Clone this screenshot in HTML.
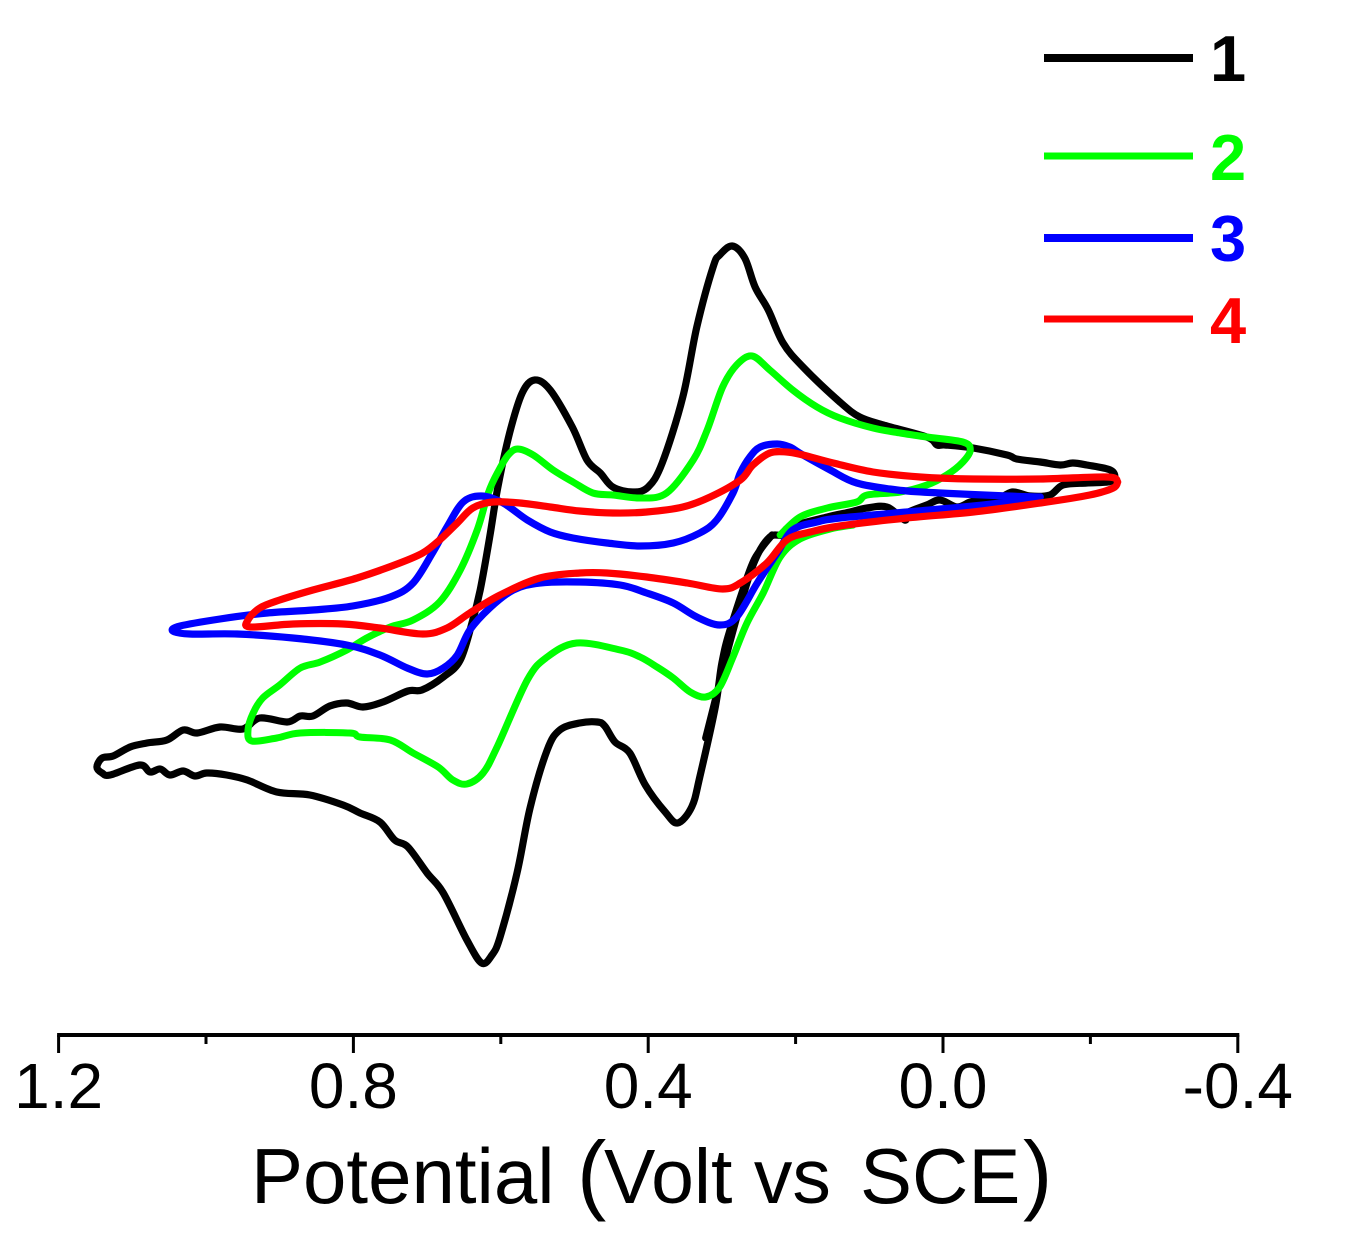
<!DOCTYPE html>
<html lang="en">
<head>
<meta charset="utf-8">
<title>Cyclic voltammograms</title>
<style>
html,body{margin:0;padding:0;background:#fff;width:1349px;height:1248px;overflow:hidden}
svg{display:block;font-family:"Liberation Sans",Arial,sans-serif}
</style>
</head>
<body>
<svg id="chart" width="1349" height="1248" viewBox="0 0 1349 1248" xmlns="http://www.w3.org/2000/svg">
  <rect width="1349" height="1248" fill="#fff"/>
  <g id="series"></g>
  <g id="axis"></g>
  <text y="1203" font-size="78" fill="#000"><tspan x="251">Potential </tspan><tspan x="577" font-size="88">(</tspan><tspan x="604" font-size="77">Volt vs </tspan><tspan x="860">SCE</tspan><tspan x="1023" font-size="88">)</tspan></text>
  <g>
    <line x1="1044" x2="1193" y1="58" y2="58" stroke="#000" stroke-width="8"/>
    <text x="1210" y="81" font-size="65" font-weight="bold" fill="#000">1</text>
    <line x1="1044" x2="1193" y1="156" y2="156" stroke="#00ff00" stroke-width="7"/>
    <text x="1210" y="180" font-size="65" font-weight="bold" fill="#00ff00">2</text>
    <line x1="1044" x2="1193" y1="238" y2="238" stroke="#0000ff" stroke-width="8"/>
    <text x="1210" y="261" font-size="65" font-weight="bold" fill="#0000ff">3</text>
    <line x1="1044" x2="1193" y1="319" y2="319" stroke="#ff0000" stroke-width="7"/>
    <text x="1210" y="343" font-size="65" font-weight="bold" fill="#ff0000">4</text>
  </g>
</svg>
<script>
const majorTicks = [1.2, 0.8, 0.4, 0.0, -0.4];
const majorTickLabels = ["1.2", "0.8", "0.4", "0.0", "-0.4"];
const minorTicks = [1.0, 0.6, 0.2, -0.2];

const potential1 = [0.322,0.309,0.292,0.273,0.255,0.235,0.217,0.208,0.157,0.126,0.103,0.076,0.052,0.049,0.022,0.004,-0.019,-0.037,-0.054,-0.073,-0.094,-0.118,-0.145,-0.163,-0.195,-0.224,-0.233,-0.227,-0.195,-0.176,-0.159,-0.132,-0.100,-0.087,-0.041,-0.003,0.008,0.022,0.081,0.113,0.140,0.190,0.217,0.237,0.255,0.269,0.286,0.303,0.312,0.334,0.353,0.381,0.400,0.421,0.448,0.465,0.483,0.503,0.533,0.554,0.571,0.588,0.604,0.615,0.628,0.638,0.655,0.678,0.707,0.726,0.760,0.787,0.809,0.832,0.855,0.872,0.890,0.927,0.950,0.981,1.012,1.031,1.053,1.080,1.103,1.126,1.141,1.148,1.141,1.130,1.090,1.076,1.062,1.049,1.031,1.015,0.999,0.972,0.944,0.904,0.859,0.814,0.791,0.764,0.744,0.726,0.700,0.678,0.646,0.626,0.612,0.601,0.578,0.560,0.537,0.520,0.493,0.469,0.459,0.445,0.425,0.404,0.377,0.360,0.341,0.330,0.309,0.300,0.289,0.262,0.248,0.232];
const current1 = [-23.8,-20.0,-15.0,-10.0,-6.0,-3.7,-3.5,-2.7,-1.7,-1.2,-0.8,-0.7,-2.0,-1.3,-0.5,0,-0.7,-0.2,0,0,0.8,0.4,0.5,1.5,1.7,1.8,2.2,3.0,3.5,3.7,3.5,3.8,4.1,4.5,5.2,5.5,5.5,6.3,7.5,8.3,9.8,13.3,15.7,19.0,21.3,24.2,25.4,24.5,23.3,17.3,10.3,3.7,1.3,0.8,1.3,2.7,4.0,7.3,11.0,12.0,10.7,6.7,1.3,-3.7,-9.0,-12.0,-16.0,-17.7,-19.0,-19.1,-20.2,-20.7,-20.3,-20.6,-21.6,-21.6,-22.2,-21.8,-22.9,-22.7,-23.3,-23.0,-24.0,-24.3,-24.7,-25.6,-25.8,-26.7,-27.3,-27.5,-26.5,-27.2,-26.9,-27.5,-27.1,-27.6,-27.3,-27.5,-28.0,-29.2,-29.5,-30.5,-31.3,-32.2,-34.0,-34.7,-37.3,-39.3,-44.0,-46.3,-45.5,-43.7,-37.3,-30.7,-25.0,-23.0,-22.3,-22.2,-22.6,-24.2,-25.3,-28.5,-31.2,-32.3,-30.7,-27.7,-20.7,-16.3,-13.0,-7.0,-5.0,-3.5];

const potential2 = [0.221,0.194,0.157,0.117,0.103,0.058,0.022,-0.005,-0.027,-0.037,-0.027,0.022,0.058,0.095,0.140,0.171,0.204,0.235,0.259,0.280,0.299,0.320,0.339,0.375,0.411,0.448,0.475,0.502,0.529,0.556,0.577,0.590,0.604,0.617,0.632,0.655,0.683,0.719,0.750,0.782,0.809,0.845,0.872,0.900,0.923,0.936,0.943,0.938,0.904,0.872,0.805,0.791,0.750,0.719,0.685,0.665,0.646,0.624,0.605,0.564,0.537,0.497,0.438,0.411,0.388,0.366,0.343,0.322,0.303,0.285,0.266,0.244,0.221,0.194,0.153,0.122];
const current2 = [-3.5,-1.7,-0.8,-0.2,0.5,0.8,1.5,2.5,3.8,5.0,5.8,6.3,6.7,7.2,8.2,9.3,11.0,13.0,14.4,13.5,11.3,7.0,4.0,0.7,0.2,0.5,0.7,1.8,3.0,4.5,5.1,4.5,2.8,0.7,-3.0,-7.0,-10.2,-12.0,-12.7,-13.8,-15.0,-16.2,-16.8,-18.5,-19.8,-21.3,-23.0,-24.1,-23.8,-23.3,-23.3,-23.7,-24.0,-25.3,-26.7,-28.0,-28.4,-27.3,-24.7,-18.0,-15.7,-14.3,-15.0,-15.7,-16.7,-17.8,-19.2,-19.7,-18.7,-15.7,-12.3,-9.3,-5.7,-3.9,-2.9,-2.5];

const potential3 = [-0.132,-0.087,0.004,0.062,0.117,0.153,0.190,0.208,0.225,0.248,0.262,0.275,0.285,0.307,0.330,0.366,0.411,0.456,0.502,0.533,0.564,0.597,0.626,0.651,0.673,0.692,0.719,0.750,0.801,0.855,0.917,0.981,1.035,1.045,1.022,0.958,0.882,0.809,0.764,0.727,0.700,0.678,0.659,0.642,0.615,0.583,0.547,0.493,0.438,0.402,0.366,0.334,0.303,0.280,0.252,0.225,0.204,0.171,0.140,0.049,-0.041,-0.109,-0.132];
const current3 = [0.3,0.4,0.7,1.0,1.7,3.0,4.5,5.3,5.6,5.3,4.3,2.7,0.7,-2.0,-3.3,-4.3,-4.6,-4.3,-3.8,-3.2,-2.0,-0.3,0.4,-0.2,-2.7,-5.2,-8.3,-9.7,-10.6,-11.0,-11.3,-11.9,-12.6,-13.1,-13.4,-13.4,-13.8,-14.5,-15.5,-16.8,-17.4,-16.8,-15.5,-13.0,-10.8,-9.0,-8.3,-8.2,-8.5,-9.3,-10.3,-11.7,-12.5,-11.7,-8.3,-5.3,-3.0,-2.2,-1.8,-1.2,-0.6,0,0.3];

const potential4 = [-0.237,-0.223,-0.132,-0.041,0.031,0.095,0.149,0.190,0.212,0.235,0.258,0.275,0.316,0.353,0.402,0.448,0.493,0.533,0.574,0.611,0.638,0.659,0.683,0.706,0.737,0.795,0.855,0.900,0.927,0.943,0.940,0.882,0.814,0.764,0.706,0.673,0.642,0.601,0.547,0.493,0.456,0.402,0.347,0.299,0.275,0.239,0.212,0.180,0.140,0.049,-0.041,-0.132,-0.199,-0.231,-0.237];
const current4 = [1.8,2.3,2.1,2.1,2.3,2.8,3.7,4.5,4.8,4.7,3.5,2.0,0.3,-0.7,-1.2,-1.3,-1.1,-0.7,-0.3,-0.2,-0.8,-2.3,-4.0,-5.3,-6.3,-7.8,-9.0,-10.0,-10.8,-12.0,-12.7,-12.4,-12.4,-12.8,-13.4,-12.8,-11.3,-9.5,-7.8,-7.3,-7.3,-7.7,-8.3,-8.9,-8.3,-6.3,-4.0,-3.2,-2.6,-1.8,-1.2,-0.3,0.5,1.2,1.8];

const SVG_NS = "http://www.w3.org/2000/svg";
function xScale(v){ return 943 - v * 737; }
function yScale(i){ return 500 - i * 10; }

function smoothPath(xs, ys){
  const n = xs.length;
  let d = "M" + xs[0].toFixed(1) + " " + ys[0].toFixed(1);
  for (let k = 0; k < n - 1; k++){
    const a = Math.max(k - 1, 0), b = k, c = k + 1, e = Math.min(k + 2, n - 1);
    const c1x = xs[b] + (xs[c] - xs[a]) / 6, c1y = ys[b] + (ys[c] - ys[a]) / 6;
    const c2x = xs[c] - (xs[e] - xs[b]) / 6, c2y = ys[c] - (ys[e] - ys[b]) / 6;
    d += "C" + c1x.toFixed(1) + " " + c1y.toFixed(1) + " " + c2x.toFixed(1) + " " + c2y.toFixed(1) + " " + xs[c].toFixed(1) + " " + ys[c].toFixed(1);
  }
  return d;
}

const seriesGroup = document.getElementById("series");
function drawSeries(potentials, currents, colour, width, name){
  const el = document.createElementNS(SVG_NS, "path");
  el.setAttribute("d", smoothPath(potentials.map(xScale), currents.map(yScale)));
  el.setAttribute("fill", "none");
  el.setAttribute("stroke", colour);
  el.setAttribute("stroke-width", width);
  el.setAttribute("stroke-linejoin", "round");
  el.setAttribute("stroke-linecap", "round");
  
  
  seriesGroup.appendChild(el);
}
drawSeries(potential1, current1, "#000000", 7.2, "series-1-curve");
drawSeries(potential2, current2, "#00ff00", 7, "series-2-curve");
drawSeries(potential3, current3, "#0000ff", 7.2, "series-3-curve");
drawSeries(potential4, current4, "#ff0000", 7.2, "series-4-curve");

const axisGroup = document.getElementById("axis");
const axisLine = document.createElementNS(SVG_NS, "line");
axisLine.setAttribute("x1", xScale(1.2) - 1.5);
axisLine.setAttribute("x2", xScale(-0.4) + 1.5);
axisLine.setAttribute("y1", 1035);
axisLine.setAttribute("y2", 1035);
axisLine.setAttribute("stroke", "#000");
axisLine.setAttribute("stroke-width", 4);


axisGroup.appendChild(axisLine);

majorTicks.forEach(function(v, idx){
  const tick = document.createElementNS(SVG_NS, "line");
  tick.setAttribute("x1", xScale(v));
  tick.setAttribute("x2", xScale(v));
  tick.setAttribute("y1", 1035);
  tick.setAttribute("y2", 1053);
  tick.setAttribute("stroke", "#000");
  tick.setAttribute("stroke-width", 3);
  
  
  axisGroup.appendChild(tick);
  const label = document.createElementNS(SVG_NS, "text");
  label.setAttribute("x", xScale(v));
  label.setAttribute("y", 1108);
  label.setAttribute("font-size", 64);
  label.setAttribute("text-anchor", "middle");
  label.setAttribute("fill", "#000");
  label.textContent = majorTickLabels[idx];
  
  
  axisGroup.appendChild(label);
});
minorTicks.forEach(function(v){
  const tick = document.createElementNS(SVG_NS, "line");
  tick.setAttribute("x1", xScale(v));
  tick.setAttribute("x2", xScale(v));
  tick.setAttribute("y1", 1035);
  tick.setAttribute("y2", 1044);
  tick.setAttribute("stroke", "#000");
  tick.setAttribute("stroke-width", 3);
  
  
  axisGroup.appendChild(tick);
});
</script>
</body>
</html>
